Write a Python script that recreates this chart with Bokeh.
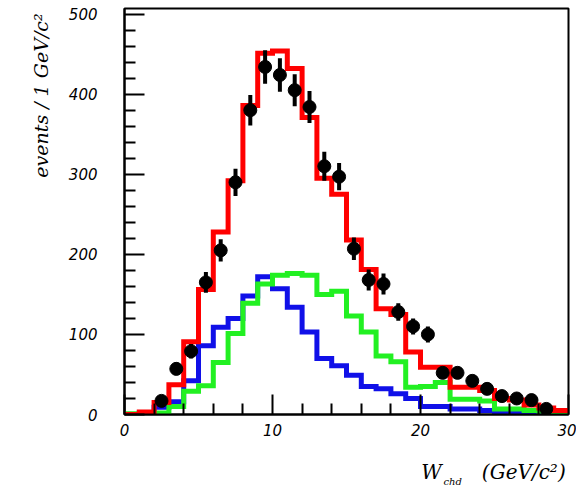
import math
from bokeh.plotting import figure
from bokeh.models import FixedTicker, Label, Range1d
from bokeh.embed import file_html
from bokeh.resources import INLINE

# ---- data ----
bin_edges = list(range(0, 31))  # 1 GeV/c^2 bins, 0..30

red_total = [0, 3, 15, 37, 91, 156, 228, 292, 386, 451,
             454, 432, 371, 295, 275, 218, 181, 132, 125, 78,
             59, 59, 34, 34, 30, 20, 18, 12, 8, 5]

blue_comp = [0, 2, 9, 16, 42, 86, 109, 120, 148, 172,
             157, 134, 103, 70, 61, 49, 35, 32, 26, 20,
             10, 10, 7, 7, 5, 3, 3, 2, 1, 0]

green_comp = [1, 1, 2, 10, 29, 36, 65, 101, 139, 163,
              174, 176, 174, 150, 154, 123, 103, 73, 66, 34,
              35, 40, 19, 19, 17, 7, 7, 5, 4, 3]

data_x = [2.5, 3.5, 4.5, 5.5, 6.5, 7.5, 8.5, 9.5, 10.5, 11.5,
          12.5, 13.5, 14.5, 15.5, 16.5, 17.5, 18.5, 19.5, 20.5, 21.5,
          22.5, 23.5, 24.5, 25.5, 26.5, 27.5, 28.5]
data_y = [17, 57, 79, 165, 205, 290, 380, 434, 424, 405,
          384, 310, 297, 207, 168, 163, 128, 110, 100, 52,
          52, 42, 32, 23, 20, 18, 7]
data_err = [4, 8, 9, 13, 14, 17, 19, 21, 21, 20,
            20, 18, 17, 14, 13, 13, 11, 10, 10, 7,
            7, 6, 6, 5, 4, 4, 3]

x_major = [0, 10, 20, 30]
x_minor = [2, 4, 6, 8, 12, 14, 16, 18, 22, 24, 26, 28]
y_major = [0, 100, 200, 300, 400, 500]
y_minor = [20, 40, 60, 80, 120, 140, 160, 180, 220, 240, 260, 280,
           320, 340, 360, 380, 420, 440, 460, 480]

x_title = "W\u2002\u2002\u2002\u2002(GeV/c\u00b2)"
x_title_sub = "chd"
y_title = "events / 1 GeV/c\u00b2"

# ---- figure ----
p = figure(width=576, height=497, output_backend="svg", toolbar_location=None,
           x_range=Range1d(0, 30), y_range=Range1d(0, 507),
           min_border_left=124, min_border_right=8, min_border_top=8,
           min_border_bottom=83)
p.background_fill_color = "white"
p.border_fill_color = "white"
p.outline_line_color = "black"
p.outline_line_width = 2
p.xgrid.visible = False
p.ygrid.visible = False

TICK_FONT = "DejaVu Sans"
TITLE_FONT = "DejaVu Serif"
for ax, maj, mnr, standoff in ((p.xaxis[0], x_major, x_minor, 9),
                               (p.yaxis[0], y_major, y_minor, 27)):
    ax.ticker = FixedTicker(ticks=maj, minor_ticks=mnr)
    ax.axis_line_width = 2
    ax.axis_line_color = "black"
    ax.major_tick_in = 20
    ax.major_tick_out = 0
    ax.minor_tick_in = 11
    ax.minor_tick_out = 0
    ax.major_tick_line_width = 2
    ax.minor_tick_line_width = 2
    ax.major_label_text_font = TICK_FONT
    ax.major_label_text_font_style = "italic"
    ax.major_label_text_font_size = "15px"
    ax.major_label_text_color = "black"
    ax.major_label_standoff = standoff
    ax.axis_label_text_font = TITLE_FONT
    ax.axis_label_text_font_style = "italic"
    ax.axis_label_text_color = "black"

p.yaxis[0].major_label_orientation = "horizontal"

# Axis titles sit at the far (high) end of each axis, as in the reference;
# the centred axis label is shifted there with leading en/thin spaces.
EN, THIN = "\u2002", "\u2009"
p.xaxis[0].axis_label = EN * 29 + THIN + x_title
p.xaxis[0].axis_label_text_font_size = "20px"
p.xaxis[0].axis_label_standoff = 21
p.yaxis[0].axis_label = EN * 24 + THIN + y_title
p.yaxis[0].axis_label_text_font_size = "19px"
p.yaxis[0].axis_label_standoff = 14


def steps(vals):
    return vals + [vals[-1]]


p.step(x=bin_edges, y=steps(blue_comp), mode="after", line_color="#1010e8",
       line_width=5, line_join="miter")
p.step(x=bin_edges, y=steps(green_comp), mode="after", line_color="#22f022",
       line_width=5, line_join="miter")
p.step(x=bin_edges, y=steps(red_total), mode="after", line_color="#ff0000",
       line_width=5, line_join="miter")

lo = [y - e for y, e in zip(data_y, data_err)]
hi = [y + e for y, e in zip(data_y, data_err)]
p.segment(x0=data_x, y0=lo, x1=data_x, y1=hi, line_color="black", line_width=4)
p.scatter(x=data_x, y=data_y, size=13, color="black", marker="circle")

p.add_layout(Label(x=319, y=16, x_units="screen", y_units="screen",
                   text=x_title_sub, text_align="left", text_baseline="alphabetic",
                   text_font=TITLE_FONT, text_font_style="italic",
                   text_font_size="10px", text_color="black"), "below")

open("out.html", "w").write(file_html(p, INLINE))
